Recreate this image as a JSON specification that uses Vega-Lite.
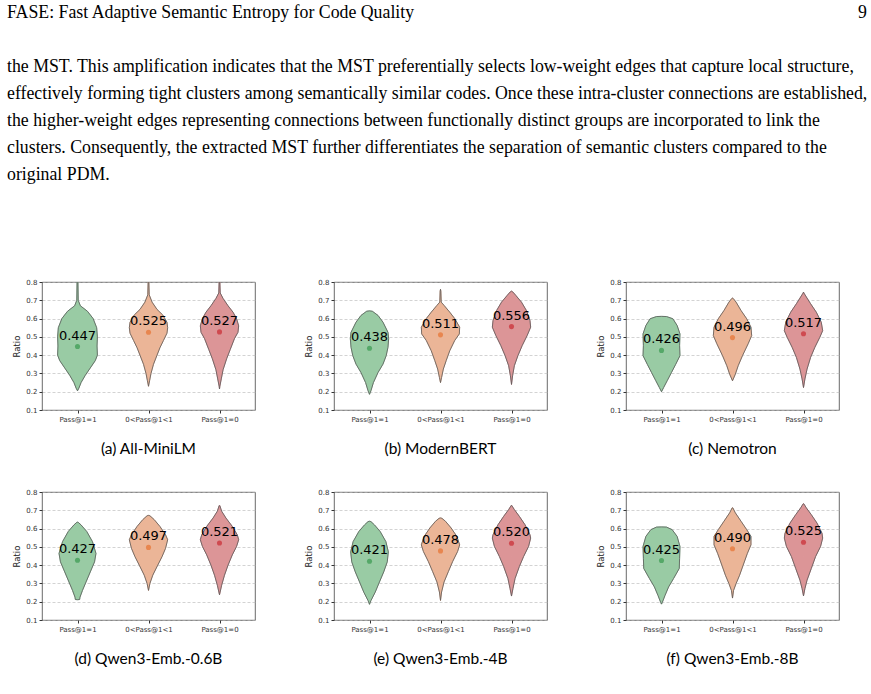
{
  "$schema": "https://vega.github.io/schema/vega-lite/v6.json",
  "padding": {"left": 7, "top": 4, "right": 0, "bottom": 0},
  "background": "white",
  "config": {
    "view": {"stroke": "#444", "strokeWidth": 0.8},
    "font": "DejaVu Sans",
    "axisY": {"values": [0.1, 0.2, 0.3, 0.4, 0.5, 0.6, 0.7, 0.8], "format": ".1f", "labelOverlap": false, "grid": true, "gridDash": [3, 2], "gridColor": "#b5b5b5", "gridWidth": 0.6, "domain": false, "tickSize": 3, "tickColor": "#333", "labelFontSize": 7, "labelColor": "#333", "labelPadding": 2, "titleFontSize": 8.5, "titleFontWeight": "normal", "titleColor": "#222", "titlePadding": 4}
  },
  "datasets": {
    "page": [
      {"line": 0, "col": 0, "t": "FASE: Fast Adaptive Semantic Entropy for Code Quality"},
      {"line": 0, "col": 1, "t": "9"},
      {"line": 2, "col": 0, "t": "the MST. This amplification indicates that the MST preferentially selects low-weight edges that capture local structure,"},
      {"line": 3, "col": 0, "t": "effectively forming tight clusters among semantically similar codes. Once these intra-cluster connections are established,"},
      {"line": 4, "col": 0, "t": "the higher-weight edges representing connections between functionally distinct groups are incorporated to link the"},
      {"line": 5, "col": 0, "t": "clusters. Consequently, the extracted MST further differentiates the separation of semantic clusters compared to the"},
      {"line": 6, "col": 0, "t": "original PDM."}
    ],
    "viol": [
      {"p":"(a) All-MiniLM","g":"Pass@1=1","y":0.8,"w":0.006},
      {"p":"(a) All-MiniLM","g":"Pass@1=1","y":0.7,"w":0.01},
      {"p":"(a) All-MiniLM","g":"Pass@1=1","y":0.67,"w":0.04},
      {"p":"(a) All-MiniLM","g":"Pass@1=1","y":0.64,"w":0.14},
      {"p":"(a) All-MiniLM","g":"Pass@1=1","y":0.6,"w":0.22},
      {"p":"(a) All-MiniLM","g":"Pass@1=1","y":0.55,"w":0.27},
      {"p":"(a) All-MiniLM","g":"Pass@1=1","y":0.5,"w":0.28},
      {"p":"(a) All-MiniLM","g":"Pass@1=1","y":0.45,"w":0.275},
      {"p":"(a) All-MiniLM","g":"Pass@1=1","y":0.4,"w":0.28},
      {"p":"(a) All-MiniLM","g":"Pass@1=1","y":0.37,"w":0.25},
      {"p":"(a) All-MiniLM","g":"Pass@1=1","y":0.33,"w":0.18},
      {"p":"(a) All-MiniLM","g":"Pass@1=1","y":0.29,"w":0.11},
      {"p":"(a) All-MiniLM","g":"Pass@1=1","y":0.25,"w":0.05},
      {"p":"(a) All-MiniLM","g":"Pass@1=1","y":0.22,"w":0.02},
      {"p":"(a) All-MiniLM","g":"Pass@1=1","y":0.205,"w":0},
      {"p":"(a) All-MiniLM","g":"0<Pass@1<1","y":0.8,"w":0.005},
      {"p":"(a) All-MiniLM","g":"0<Pass@1<1","y":0.73,"w":0.01},
      {"p":"(a) All-MiniLM","g":"0<Pass@1<1","y":0.69,"w":0.05},
      {"p":"(a) All-MiniLM","g":"0<Pass@1<1","y":0.65,"w":0.12},
      {"p":"(a) All-MiniLM","g":"0<Pass@1<1","y":0.62,"w":0.2},
      {"p":"(a) All-MiniLM","g":"0<Pass@1<1","y":0.58,"w":0.26},
      {"p":"(a) All-MiniLM","g":"0<Pass@1<1","y":0.55,"w":0.27},
      {"p":"(a) All-MiniLM","g":"0<Pass@1<1","y":0.52,"w":0.26},
      {"p":"(a) All-MiniLM","g":"0<Pass@1<1","y":0.48,"w":0.21},
      {"p":"(a) All-MiniLM","g":"0<Pass@1<1","y":0.44,"w":0.16},
      {"p":"(a) All-MiniLM","g":"0<Pass@1<1","y":0.4,"w":0.12},
      {"p":"(a) All-MiniLM","g":"0<Pass@1<1","y":0.35,"w":0.07},
      {"p":"(a) All-MiniLM","g":"0<Pass@1<1","y":0.3,"w":0.035},
      {"p":"(a) All-MiniLM","g":"0<Pass@1<1","y":0.26,"w":0.015},
      {"p":"(a) All-MiniLM","g":"0<Pass@1<1","y":0.23,"w":0},
      {"p":"(a) All-MiniLM","g":"Pass@1=0","y":0.8,"w":0.005},
      {"p":"(a) All-MiniLM","g":"Pass@1=0","y":0.74,"w":0.01},
      {"p":"(a) All-MiniLM","g":"Pass@1=0","y":0.71,"w":0.05},
      {"p":"(a) All-MiniLM","g":"Pass@1=0","y":0.67,"w":0.12},
      {"p":"(a) All-MiniLM","g":"Pass@1=0","y":0.635,"w":0.19},
      {"p":"(a) All-MiniLM","g":"Pass@1=0","y":0.6,"w":0.24},
      {"p":"(a) All-MiniLM","g":"Pass@1=0","y":0.56,"w":0.27},
      {"p":"(a) All-MiniLM","g":"Pass@1=0","y":0.525,"w":0.26},
      {"p":"(a) All-MiniLM","g":"Pass@1=0","y":0.49,"w":0.21},
      {"p":"(a) All-MiniLM","g":"Pass@1=0","y":0.43,"w":0.15},
      {"p":"(a) All-MiniLM","g":"Pass@1=0","y":0.38,"w":0.1},
      {"p":"(a) All-MiniLM","g":"Pass@1=0","y":0.32,"w":0.05},
      {"p":"(a) All-MiniLM","g":"Pass@1=0","y":0.27,"w":0.025},
      {"p":"(a) All-MiniLM","g":"Pass@1=0","y":0.23,"w":0.005},
      {"p":"(a) All-MiniLM","g":"Pass@1=0","y":0.215,"w":0},

      {"p":"(b) ModernBERT","g":"Pass@1=1","y":0.642,"w":0},
      {"p":"(b) ModernBERT","g":"Pass@1=1","y":0.64,"w":0.04},
      {"p":"(b) ModernBERT","g":"Pass@1=1","y":0.617,"w":0.12},
      {"p":"(b) ModernBERT","g":"Pass@1=1","y":0.58,"w":0.19},
      {"p":"(b) ModernBERT","g":"Pass@1=1","y":0.525,"w":0.26},
      {"p":"(b) ModernBERT","g":"Pass@1=1","y":0.49,"w":0.27},
      {"p":"(b) ModernBERT","g":"Pass@1=1","y":0.443,"w":0.26},
      {"p":"(b) ModernBERT","g":"Pass@1=1","y":0.397,"w":0.235},
      {"p":"(b) ModernBERT","g":"Pass@1=1","y":0.351,"w":0.19},
      {"p":"(b) ModernBERT","g":"Pass@1=1","y":0.305,"w":0.12},
      {"p":"(b) ModernBERT","g":"Pass@1=1","y":0.25,"w":0.055},
      {"p":"(b) ModernBERT","g":"Pass@1=1","y":0.205,"w":0.02},
      {"p":"(b) ModernBERT","g":"Pass@1=1","y":0.186,"w":0},
      {"p":"(b) ModernBERT","g":"0<Pass@1<1","y":0.76,"w":0},
      {"p":"(b) ModernBERT","g":"0<Pass@1<1","y":0.75,"w":0.005},
      {"p":"(b) ModernBERT","g":"0<Pass@1<1","y":0.69,"w":0.01},
      {"p":"(b) ModernBERT","g":"0<Pass@1<1","y":0.672,"w":0.05},
      {"p":"(b) ModernBERT","g":"0<Pass@1<1","y":0.635,"w":0.13},
      {"p":"(b) ModernBERT","g":"0<Pass@1<1","y":0.6,"w":0.2},
      {"p":"(b) ModernBERT","g":"0<Pass@1<1","y":0.553,"w":0.27},
      {"p":"(b) ModernBERT","g":"0<Pass@1<1","y":0.516,"w":0.265},
      {"p":"(b) ModernBERT","g":"0<Pass@1<1","y":0.48,"w":0.2},
      {"p":"(b) ModernBERT","g":"0<Pass@1<1","y":0.424,"w":0.13},
      {"p":"(b) ModernBERT","g":"0<Pass@1<1","y":0.37,"w":0.08},
      {"p":"(b) ModernBERT","g":"0<Pass@1<1","y":0.324,"w":0.04},
      {"p":"(b) ModernBERT","g":"0<Pass@1<1","y":0.278,"w":0.015},
      {"p":"(b) ModernBERT","g":"0<Pass@1<1","y":0.25,"w":0},
      {"p":"(b) ModernBERT","g":"Pass@1=0","y":0.75,"w":0},
      {"p":"(b) ModernBERT","g":"Pass@1=0","y":0.745,"w":0.02},
      {"p":"(b) ModernBERT","g":"Pass@1=0","y":0.727,"w":0.06},
      {"p":"(b) ModernBERT","g":"Pass@1=0","y":0.69,"w":0.14},
      {"p":"(b) ModernBERT","g":"Pass@1=0","y":0.644,"w":0.21},
      {"p":"(b) ModernBERT","g":"Pass@1=0","y":0.589,"w":0.26},
      {"p":"(b) ModernBERT","g":"Pass@1=0","y":0.553,"w":0.27},
      {"p":"(b) ModernBERT","g":"Pass@1=0","y":0.507,"w":0.22},
      {"p":"(b) ModernBERT","g":"Pass@1=0","y":0.452,"w":0.15},
      {"p":"(b) ModernBERT","g":"Pass@1=0","y":0.397,"w":0.09},
      {"p":"(b) ModernBERT","g":"Pass@1=0","y":0.342,"w":0.04},
      {"p":"(b) ModernBERT","g":"Pass@1=0","y":0.287,"w":0.015},
      {"p":"(b) ModernBERT","g":"Pass@1=0","y":0.24,"w":0},

      {"p":"(c) Nemotron","g":"Pass@1=1","y":0.612,"w":0},
      {"p":"(c) Nemotron","g":"Pass@1=1","y":0.611,"w":0.07},
      {"p":"(c) Nemotron","g":"Pass@1=1","y":0.599,"w":0.16},
      {"p":"(c) Nemotron","g":"Pass@1=1","y":0.562,"w":0.22},
      {"p":"(c) Nemotron","g":"Pass@1=1","y":0.516,"w":0.26},
      {"p":"(c) Nemotron","g":"Pass@1=1","y":0.452,"w":0.255},
      {"p":"(c) Nemotron","g":"Pass@1=1","y":0.397,"w":0.26},
      {"p":"(c) Nemotron","g":"Pass@1=1","y":0.35,"w":0.2},
      {"p":"(c) Nemotron","g":"Pass@1=1","y":0.305,"w":0.14},
      {"p":"(c) Nemotron","g":"Pass@1=1","y":0.26,"w":0.08},
      {"p":"(c) Nemotron","g":"Pass@1=1","y":0.223,"w":0.03},
      {"p":"(c) Nemotron","g":"Pass@1=1","y":0.2,"w":0},
      {"p":"(c) Nemotron","g":"0<Pass@1<1","y":0.712,"w":0},
      {"p":"(c) Nemotron","g":"0<Pass@1<1","y":0.71,"w":0.01},
      {"p":"(c) Nemotron","g":"0<Pass@1<1","y":0.69,"w":0.05},
      {"p":"(c) Nemotron","g":"0<Pass@1<1","y":0.644,"w":0.12},
      {"p":"(c) Nemotron","g":"0<Pass@1<1","y":0.599,"w":0.2},
      {"p":"(c) Nemotron","g":"0<Pass@1<1","y":0.553,"w":0.26},
      {"p":"(c) Nemotron","g":"0<Pass@1<1","y":0.507,"w":0.27},
      {"p":"(c) Nemotron","g":"0<Pass@1<1","y":0.462,"w":0.22},
      {"p":"(c) Nemotron","g":"0<Pass@1<1","y":0.397,"w":0.14},
      {"p":"(c) Nemotron","g":"0<Pass@1<1","y":0.342,"w":0.08},
      {"p":"(c) Nemotron","g":"0<Pass@1<1","y":0.296,"w":0.04},
      {"p":"(c) Nemotron","g":"0<Pass@1<1","y":0.26,"w":0},
      {"p":"(c) Nemotron","g":"Pass@1=0","y":0.745,"w":0},
      {"p":"(c) Nemotron","g":"Pass@1=0","y":0.74,"w":0.005},
      {"p":"(c) Nemotron","g":"Pass@1=0","y":0.718,"w":0.04},
      {"p":"(c) Nemotron","g":"Pass@1=0","y":0.681,"w":0.1},
      {"p":"(c) Nemotron","g":"Pass@1=0","y":0.635,"w":0.18},
      {"p":"(c) Nemotron","g":"Pass@1=0","y":0.58,"w":0.25},
      {"p":"(c) Nemotron","g":"Pass@1=0","y":0.534,"w":0.27},
      {"p":"(c) Nemotron","g":"Pass@1=0","y":0.498,"w":0.23},
      {"p":"(c) Nemotron","g":"Pass@1=0","y":0.443,"w":0.16},
      {"p":"(c) Nemotron","g":"Pass@1=0","y":0.388,"w":0.1},
      {"p":"(c) Nemotron","g":"Pass@1=0","y":0.324,"w":0.05},
      {"p":"(c) Nemotron","g":"Pass@1=0","y":0.27,"w":0.02},
      {"p":"(c) Nemotron","g":"Pass@1=0","y":0.223,"w":0},

      {"p":"(d) Qwen3-Emb.-0.6B","g":"Pass@1=1","y":0.635,"w":0},
      {"p":"(d) Qwen3-Emb.-0.6B","g":"Pass@1=1","y":0.634,"w":0.01},
      {"p":"(d) Qwen3-Emb.-0.6B","g":"Pass@1=1","y":0.62,"w":0.05},
      {"p":"(d) Qwen3-Emb.-0.6B","g":"Pass@1=1","y":0.584,"w":0.13},
      {"p":"(d) Qwen3-Emb.-0.6B","g":"Pass@1=1","y":0.529,"w":0.21},
      {"p":"(d) Qwen3-Emb.-0.6B","g":"Pass@1=1","y":0.464,"w":0.26},
      {"p":"(d) Qwen3-Emb.-0.6B","g":"Pass@1=1","y":0.418,"w":0.24},
      {"p":"(d) Qwen3-Emb.-0.6B","g":"Pass@1=1","y":0.363,"w":0.18},
      {"p":"(d) Qwen3-Emb.-0.6B","g":"Pass@1=1","y":0.308,"w":0.12},
      {"p":"(d) Qwen3-Emb.-0.6B","g":"Pass@1=1","y":0.262,"w":0.07},
      {"p":"(d) Qwen3-Emb.-0.6B","g":"Pass@1=1","y":0.225,"w":0.035},
      {"p":"(d) Qwen3-Emb.-0.6B","g":"Pass@1=1","y":0.212,"w":0.03},
      {"p":"(d) Qwen3-Emb.-0.6B","g":"Pass@1=1","y":0.211,"w":0},
      {"p":"(d) Qwen3-Emb.-0.6B","g":"0<Pass@1<1","y":0.672,"w":0},
      {"p":"(d) Qwen3-Emb.-0.6B","g":"0<Pass@1<1","y":0.67,"w":0.02},
      {"p":"(d) Qwen3-Emb.-0.6B","g":"0<Pass@1<1","y":0.649,"w":0.08},
      {"p":"(d) Qwen3-Emb.-0.6B","g":"0<Pass@1<1","y":0.612,"w":0.16},
      {"p":"(d) Qwen3-Emb.-0.6B","g":"0<Pass@1<1","y":0.566,"w":0.24},
      {"p":"(d) Qwen3-Emb.-0.6B","g":"0<Pass@1<1","y":0.539,"w":0.27},
      {"p":"(d) Qwen3-Emb.-0.6B","g":"0<Pass@1<1","y":0.492,"w":0.24},
      {"p":"(d) Qwen3-Emb.-0.6B","g":"0<Pass@1<1","y":0.446,"w":0.19},
      {"p":"(d) Qwen3-Emb.-0.6B","g":"0<Pass@1<1","y":0.4,"w":0.13},
      {"p":"(d) Qwen3-Emb.-0.6B","g":"0<Pass@1<1","y":0.345,"w":0.06},
      {"p":"(d) Qwen3-Emb.-0.6B","g":"0<Pass@1<1","y":0.3,"w":0.02},
      {"p":"(d) Qwen3-Emb.-0.6B","g":"0<Pass@1<1","y":0.262,"w":0},
      {"p":"(d) Qwen3-Emb.-0.6B","g":"Pass@1=0","y":0.727,"w":0},
      {"p":"(d) Qwen3-Emb.-0.6B","g":"Pass@1=0","y":0.725,"w":0.005},
      {"p":"(d) Qwen3-Emb.-0.6B","g":"Pass@1=0","y":0.695,"w":0.03},
      {"p":"(d) Qwen3-Emb.-0.6B","g":"Pass@1=0","y":0.658,"w":0.09},
      {"p":"(d) Qwen3-Emb.-0.6B","g":"Pass@1=0","y":0.612,"w":0.18},
      {"p":"(d) Qwen3-Emb.-0.6B","g":"Pass@1=0","y":0.566,"w":0.25},
      {"p":"(d) Qwen3-Emb.-0.6B","g":"Pass@1=0","y":0.539,"w":0.27},
      {"p":"(d) Qwen3-Emb.-0.6B","g":"Pass@1=0","y":0.502,"w":0.24},
      {"p":"(d) Qwen3-Emb.-0.6B","g":"Pass@1=0","y":0.456,"w":0.18},
      {"p":"(d) Qwen3-Emb.-0.6B","g":"Pass@1=0","y":0.4,"w":0.12},
      {"p":"(d) Qwen3-Emb.-0.6B","g":"Pass@1=0","y":0.345,"w":0.07},
      {"p":"(d) Qwen3-Emb.-0.6B","g":"Pass@1=0","y":0.29,"w":0.03},
      {"p":"(d) Qwen3-Emb.-0.6B","g":"Pass@1=0","y":0.238,"w":0},

      {"p":"(e) Qwen3-Emb.-4B","g":"Pass@1=1","y":0.64,"w":0},
      {"p":"(e) Qwen3-Emb.-4B","g":"Pass@1=1","y":0.638,"w":0.02},
      {"p":"(e) Qwen3-Emb.-4B","g":"Pass@1=1","y":0.62,"w":0.07},
      {"p":"(e) Qwen3-Emb.-4B","g":"Pass@1=1","y":0.584,"w":0.15},
      {"p":"(e) Qwen3-Emb.-4B","g":"Pass@1=1","y":0.529,"w":0.23},
      {"p":"(e) Qwen3-Emb.-4B","g":"Pass@1=1","y":0.473,"w":0.265},
      {"p":"(e) Qwen3-Emb.-4B","g":"Pass@1=1","y":0.418,"w":0.25},
      {"p":"(e) Qwen3-Emb.-4B","g":"Pass@1=1","y":0.363,"w":0.2},
      {"p":"(e) Qwen3-Emb.-4B","g":"Pass@1=1","y":0.308,"w":0.14},
      {"p":"(e) Qwen3-Emb.-4B","g":"Pass@1=1","y":0.252,"w":0.08},
      {"p":"(e) Qwen3-Emb.-4B","g":"Pass@1=1","y":0.206,"w":0.02},
      {"p":"(e) Qwen3-Emb.-4B","g":"Pass@1=1","y":0.186,"w":0},
      {"p":"(e) Qwen3-Emb.-4B","g":"0<Pass@1<1","y":0.658,"w":0},
      {"p":"(e) Qwen3-Emb.-4B","g":"0<Pass@1<1","y":0.656,"w":0.02},
      {"p":"(e) Qwen3-Emb.-4B","g":"0<Pass@1<1","y":0.64,"w":0.07},
      {"p":"(e) Qwen3-Emb.-4B","g":"0<Pass@1<1","y":0.603,"w":0.15},
      {"p":"(e) Qwen3-Emb.-4B","g":"0<Pass@1<1","y":0.557,"w":0.23},
      {"p":"(e) Qwen3-Emb.-4B","g":"0<Pass@1<1","y":0.511,"w":0.27},
      {"p":"(e) Qwen3-Emb.-4B","g":"0<Pass@1<1","y":0.474,"w":0.24},
      {"p":"(e) Qwen3-Emb.-4B","g":"0<Pass@1<1","y":0.419,"w":0.17},
      {"p":"(e) Qwen3-Emb.-4B","g":"0<Pass@1<1","y":0.364,"w":0.11},
      {"p":"(e) Qwen3-Emb.-4B","g":"0<Pass@1<1","y":0.308,"w":0.05},
      {"p":"(e) Qwen3-Emb.-4B","g":"0<Pass@1<1","y":0.253,"w":0.015},
      {"p":"(e) Qwen3-Emb.-4B","g":"0<Pass@1<1","y":0.207,"w":0},
      {"p":"(e) Qwen3-Emb.-4B","g":"Pass@1=0","y":0.728,"w":0},
      {"p":"(e) Qwen3-Emb.-4B","g":"Pass@1=0","y":0.725,"w":0.005},
      {"p":"(e) Qwen3-Emb.-4B","g":"Pass@1=0","y":0.704,"w":0.04},
      {"p":"(e) Qwen3-Emb.-4B","g":"Pass@1=0","y":0.667,"w":0.11},
      {"p":"(e) Qwen3-Emb.-4B","g":"Pass@1=0","y":0.621,"w":0.19},
      {"p":"(e) Qwen3-Emb.-4B","g":"Pass@1=0","y":0.566,"w":0.26},
      {"p":"(e) Qwen3-Emb.-4B","g":"Pass@1=0","y":0.548,"w":0.27},
      {"p":"(e) Qwen3-Emb.-4B","g":"Pass@1=0","y":0.502,"w":0.24},
      {"p":"(e) Qwen3-Emb.-4B","g":"Pass@1=0","y":0.447,"w":0.17},
      {"p":"(e) Qwen3-Emb.-4B","g":"Pass@1=0","y":0.392,"w":0.11},
      {"p":"(e) Qwen3-Emb.-4B","g":"Pass@1=0","y":0.327,"w":0.05},
      {"p":"(e) Qwen3-Emb.-4B","g":"Pass@1=0","y":0.271,"w":0.02},
      {"p":"(e) Qwen3-Emb.-4B","g":"Pass@1=0","y":0.231,"w":0},

      {"p":"(f) Qwen3-Emb.-8B","g":"Pass@1=1","y":0.609,"w":0},
      {"p":"(f) Qwen3-Emb.-8B","g":"Pass@1=1","y":0.608,"w":0.07},
      {"p":"(f) Qwen3-Emb.-8B","g":"Pass@1=1","y":0.594,"w":0.15},
      {"p":"(f) Qwen3-Emb.-8B","g":"Pass@1=1","y":0.557,"w":0.22},
      {"p":"(f) Qwen3-Emb.-8B","g":"Pass@1=1","y":0.502,"w":0.26},
      {"p":"(f) Qwen3-Emb.-8B","g":"Pass@1=1","y":0.437,"w":0.255},
      {"p":"(f) Qwen3-Emb.-8B","g":"Pass@1=1","y":0.382,"w":0.25},
      {"p":"(f) Qwen3-Emb.-8B","g":"Pass@1=1","y":0.327,"w":0.17},
      {"p":"(f) Qwen3-Emb.-8B","g":"Pass@1=1","y":0.281,"w":0.1},
      {"p":"(f) Qwen3-Emb.-8B","g":"Pass@1=1","y":0.235,"w":0.05},
      {"p":"(f) Qwen3-Emb.-8B","g":"Pass@1=1","y":0.195,"w":0.01},
      {"p":"(f) Qwen3-Emb.-8B","g":"Pass@1=1","y":0.187,"w":0},
      {"p":"(f) Qwen3-Emb.-8B","g":"0<Pass@1<1","y":0.714,"w":0},
      {"p":"(f) Qwen3-Emb.-8B","g":"0<Pass@1<1","y":0.713,"w":0.005},
      {"p":"(f) Qwen3-Emb.-8B","g":"0<Pass@1<1","y":0.686,"w":0.04},
      {"p":"(f) Qwen3-Emb.-8B","g":"0<Pass@1<1","y":0.64,"w":0.12},
      {"p":"(f) Qwen3-Emb.-8B","g":"0<Pass@1<1","y":0.594,"w":0.2},
      {"p":"(f) Qwen3-Emb.-8B","g":"0<Pass@1<1","y":0.557,"w":0.26},
      {"p":"(f) Qwen3-Emb.-8B","g":"0<Pass@1<1","y":0.511,"w":0.26},
      {"p":"(f) Qwen3-Emb.-8B","g":"0<Pass@1<1","y":0.465,"w":0.21},
      {"p":"(f) Qwen3-Emb.-8B","g":"0<Pass@1<1","y":0.4,"w":0.15},
      {"p":"(f) Qwen3-Emb.-8B","g":"0<Pass@1<1","y":0.345,"w":0.1},
      {"p":"(f) Qwen3-Emb.-8B","g":"0<Pass@1<1","y":0.299,"w":0.05},
      {"p":"(f) Qwen3-Emb.-8B","g":"0<Pass@1<1","y":0.262,"w":0.015},
      {"p":"(f) Qwen3-Emb.-8B","g":"0<Pass@1<1","y":0.22,"w":0},
      {"p":"(f) Qwen3-Emb.-8B","g":"Pass@1=0","y":0.736,"w":0},
      {"p":"(f) Qwen3-Emb.-8B","g":"Pass@1=0","y":0.735,"w":0.005},
      {"p":"(f) Qwen3-Emb.-8B","g":"Pass@1=0","y":0.713,"w":0.04},
      {"p":"(f) Qwen3-Emb.-8B","g":"Pass@1=0","y":0.676,"w":0.11},
      {"p":"(f) Qwen3-Emb.-8B","g":"Pass@1=0","y":0.63,"w":0.19},
      {"p":"(f) Qwen3-Emb.-8B","g":"Pass@1=0","y":0.575,"w":0.26},
      {"p":"(f) Qwen3-Emb.-8B","g":"Pass@1=0","y":0.548,"w":0.27},
      {"p":"(f) Qwen3-Emb.-8B","g":"Pass@1=0","y":0.502,"w":0.24},
      {"p":"(f) Qwen3-Emb.-8B","g":"Pass@1=0","y":0.447,"w":0.17},
      {"p":"(f) Qwen3-Emb.-8B","g":"Pass@1=0","y":0.382,"w":0.11},
      {"p":"(f) Qwen3-Emb.-8B","g":"Pass@1=0","y":0.318,"w":0.05},
      {"p":"(f) Qwen3-Emb.-8B","g":"Pass@1=0","y":0.272,"w":0.02},
      {"p":"(f) Qwen3-Emb.-8B","g":"Pass@1=0","y":0.232,"w":0},

      {"p":"(a) All-MiniLM","g":"Pass@1=1","m":0.447},
      {"p":"(a) All-MiniLM","g":"0<Pass@1<1","m":0.525},
      {"p":"(a) All-MiniLM","g":"Pass@1=0","m":0.527},
      {"p":"(b) ModernBERT","g":"Pass@1=1","m":0.438},
      {"p":"(b) ModernBERT","g":"0<Pass@1<1","m":0.511},
      {"p":"(b) ModernBERT","g":"Pass@1=0","m":0.556},
      {"p":"(c) Nemotron","g":"Pass@1=1","m":0.426},
      {"p":"(c) Nemotron","g":"0<Pass@1<1","m":0.496},
      {"p":"(c) Nemotron","g":"Pass@1=0","m":0.517},
      {"p":"(d) Qwen3-Emb.-0.6B","g":"Pass@1=1","m":0.427},
      {"p":"(d) Qwen3-Emb.-0.6B","g":"0<Pass@1<1","m":0.497},
      {"p":"(d) Qwen3-Emb.-0.6B","g":"Pass@1=0","m":0.521},
      {"p":"(e) Qwen3-Emb.-4B","g":"Pass@1=1","m":0.421},
      {"p":"(e) Qwen3-Emb.-4B","g":"0<Pass@1<1","m":0.478},
      {"p":"(e) Qwen3-Emb.-4B","g":"Pass@1=0","m":0.520},
      {"p":"(f) Qwen3-Emb.-8B","g":"Pass@1=1","m":0.425},
      {"p":"(f) Qwen3-Emb.-8B","g":"0<Pass@1<1","m":0.490},
      {"p":"(f) Qwen3-Emb.-8B","g":"Pass@1=0","m":0.525}
    ]
  },
  "vconcat": [
    {
      "data": {"name": "page"},
      "width": 821,
      "height": 162,
      "view": {"stroke": null},
      "layer": [
        {
          "transform": [{"filter": "datum.col === 0"}],
          "mark": {"type": "text", "align": "left", "baseline": "middle", "font": "Liberation Serif", "fontSize": 17.8, "color": "#000", "dx": -35},
          "encoding": {
            "x": {"field": "col", "type": "quantitative", "scale": {"domain": [0, 1], "nice": false}, "axis": null},
            "y": {"field": "line", "type": "quantitative", "scale": {"domain": [0, 6], "reverse": true, "nice": false}, "axis": null},
            "text": {"field": "t"}
          }
        },
        {
          "transform": [{"filter": "datum.col === 1"}],
          "mark": {"type": "text", "align": "right", "baseline": "middle", "font": "Liberation Serif", "fontSize": 17.8, "color": "#000", "dx": 4},
          "encoding": {
            "x": {"field": "col", "type": "quantitative", "scale": {"domain": [0, 1], "nice": false}, "axis": null},
            "y": {"field": "line", "type": "quantitative", "scale": {"domain": [0, 6], "reverse": true, "nice": false}, "axis": null},
            "text": {"field": "t"}
          }
        }
      ]
    },
    {
      "data": {"name": "viol"},
      "columns": 3,
      "spacing": {"row": 29, "column": 48},
      "facet": {
        "field": "p", "type": "nominal",
        "sort": ["(a) All-MiniLM", "(b) ModernBERT", "(c) Nemotron", "(d) Qwen3-Emb.-0.6B", "(e) Qwen3-Emb.-4B", "(f) Qwen3-Emb.-8B"],
        "header": {"title": null, "labelOrient": "bottom", "labelFont": "Lato", "labelFontSize": 15.5, "labelColor": "#000", "labelPadding": 20}
      },
      "resolve": {"axis": {"x": "independent", "y": "independent"}},
      "spec": {
        "width": 213,
        "height": 128,
        "resolve": {"scale": {"x": "independent"}},
        "layer": [
          {"transform": [{"filter": "datum.g === 'Pass@1=1' && isValid(datum.w)"}],
           "mark": {"type": "area", "orient": "horizontal", "fill": "#99cba4", "stroke": "#99cba4", "strokeWidth": 1, "clip": true},
           "encoding": {"y": {"field": "y", "type": "quantitative"}, "x": {"field": "w", "type": "quantitative", "scale": {"domain": [-0.5, 2.5], "nice": false, "zero": false}, "axis": null}, "x2": {"datum": 0}}},
          {"transform": [{"filter": "datum.g === 'Pass@1=1' && isValid(datum.w)"}],
           "mark": {"type": "area", "orient": "horizontal", "fill": "#99cba4", "stroke": "#99cba4", "strokeWidth": 1, "clip": true},
           "encoding": {"y": {"field": "y", "type": "quantitative"}, "x": {"field": "w", "type": "quantitative", "scale": {"domain": [-2.5, 0.5], "reverse": true, "nice": false, "zero": false}, "axis": null}, "x2": {"datum": 0}}},
          {"transform": [{"filter": "datum.g === '0<Pass@1<1' && isValid(datum.w)"}],
           "mark": {"type": "area", "orient": "horizontal", "fill": "#ebb597", "stroke": "#ebb597", "strokeWidth": 1, "clip": true},
           "encoding": {"y": {"field": "y", "type": "quantitative"}, "x": {"field": "w", "type": "quantitative", "scale": {"domain": [-1.5, 1.5], "nice": false, "zero": false}, "axis": null}, "x2": {"datum": 0}}},
          {"transform": [{"filter": "datum.g === '0<Pass@1<1' && isValid(datum.w)"}],
           "mark": {"type": "area", "orient": "horizontal", "fill": "#ebb597", "stroke": "#ebb597", "strokeWidth": 1, "clip": true},
           "encoding": {"y": {"field": "y", "type": "quantitative"}, "x": {"field": "w", "type": "quantitative", "scale": {"domain": [-1.5, 1.5], "reverse": true, "nice": false, "zero": false}, "axis": null}, "x2": {"datum": 0}}},
          {"transform": [{"filter": "datum.g === 'Pass@1=0' && isValid(datum.w)"}],
           "mark": {"type": "area", "orient": "horizontal", "fill": "#dc9597", "stroke": "#dc9597", "strokeWidth": 1, "clip": true},
           "encoding": {"y": {"field": "y", "type": "quantitative"}, "x": {"field": "w", "type": "quantitative", "scale": {"domain": [-2.5, 0.5], "nice": false, "zero": false}, "axis": null}, "x2": {"datum": 0}}},
          {"transform": [{"filter": "datum.g === 'Pass@1=0' && isValid(datum.w)"}],
           "mark": {"type": "area", "orient": "horizontal", "fill": "#dc9597", "stroke": "#dc9597", "strokeWidth": 1, "clip": true},
           "encoding": {"y": {"field": "y", "type": "quantitative"}, "x": {"field": "w", "type": "quantitative", "scale": {"domain": [-0.5, 2.5], "reverse": true, "nice": false, "zero": false}, "axis": null}, "x2": {"datum": 0}}},

          {"transform": [{"filter": "datum.g === 'Pass@1=1' && isValid(datum.w)"}],
           "mark": {"type": "line", "stroke": "#5a5a5a", "strokeWidth": 0.8, "clip": true},
           "encoding": {"y": {"field": "y", "type": "quantitative"}, "order": {"field": "y", "type": "quantitative"}, "x": {"field": "w", "type": "quantitative", "scale": {"domain": [-0.5, 2.5], "nice": false, "zero": false}, "axis": null}}},
          {"transform": [{"filter": "datum.g === 'Pass@1=1' && isValid(datum.w)"}],
           "mark": {"type": "line", "stroke": "#5a5a5a", "strokeWidth": 0.8, "clip": true},
           "encoding": {"y": {"field": "y", "type": "quantitative"}, "order": {"field": "y", "type": "quantitative"}, "x": {"field": "w", "type": "quantitative", "scale": {"domain": [-2.5, 0.5], "reverse": true, "nice": false, "zero": false}, "axis": null}}},
          {"transform": [{"filter": "datum.g === '0<Pass@1<1' && isValid(datum.w)"}],
           "mark": {"type": "line", "stroke": "#5a5a5a", "strokeWidth": 0.8, "clip": true},
           "encoding": {"y": {"field": "y", "type": "quantitative"}, "order": {"field": "y", "type": "quantitative"}, "x": {"field": "w", "type": "quantitative", "scale": {"domain": [-1.5, 1.5], "nice": false, "zero": false}, "axis": null}}},
          {"transform": [{"filter": "datum.g === '0<Pass@1<1' && isValid(datum.w)"}],
           "mark": {"type": "line", "stroke": "#5a5a5a", "strokeWidth": 0.8, "clip": true},
           "encoding": {"y": {"field": "y", "type": "quantitative"}, "order": {"field": "y", "type": "quantitative"}, "x": {"field": "w", "type": "quantitative", "scale": {"domain": [-1.5, 1.5], "reverse": true, "nice": false, "zero": false}, "axis": null}}},
          {"transform": [{"filter": "datum.g === 'Pass@1=0' && isValid(datum.w)"}],
           "mark": {"type": "line", "stroke": "#5a5a5a", "strokeWidth": 0.8, "clip": true},
           "encoding": {"y": {"field": "y", "type": "quantitative"}, "order": {"field": "y", "type": "quantitative"}, "x": {"field": "w", "type": "quantitative", "scale": {"domain": [-2.5, 0.5], "nice": false, "zero": false}, "axis": null}}},
          {"transform": [{"filter": "datum.g === 'Pass@1=0' && isValid(datum.w)"}],
           "mark": {"type": "line", "stroke": "#5a5a5a", "strokeWidth": 0.8, "clip": true},
           "encoding": {"y": {"field": "y", "type": "quantitative"}, "order": {"field": "y", "type": "quantitative"}, "x": {"field": "w", "type": "quantitative", "scale": {"domain": [-0.5, 2.5], "reverse": true, "nice": false, "zero": false}, "axis": null}}},

          {"transform": [{"filter": "isValid(datum.m)"}],
           "mark": {"type": "circle", "size": 26, "opacity": 1},
           "encoding": {
             "x": {"field": "g", "type": "nominal", "scale": {"type": "point", "padding": 0.5, "domain": ["Pass@1=1", "0<Pass@1<1", "Pass@1=0"]},
                   "axis": {"title": null, "labelAngle": 0, "labelFontSize": 7, "labelColor": "#333", "tickSize": 3, "tickColor": "#333", "domain": false, "labelPadding": 2, "grid": false}},
             "y": {"field": "m", "type": "quantitative", "scale": {"domain": [0.1, 0.8], "nice": false, "zero": false},
                   "axis": {"title": "Ratio", "values": [0.1, 0.2, 0.3, 0.4, 0.5, 0.6, 0.7, 0.8], "tickCount": 8, "labelOverlap": false}},
             "color": {"field": "g", "type": "nominal", "scale": {"domain": ["Pass@1=1", "0<Pass@1<1", "Pass@1=0"], "range": ["#55a868", "#e8864f", "#cf4a50"]}, "legend": null}
           }},
          {"transform": [{"filter": "isValid(datum.m)"}],
           "mark": {"type": "text", "fontSize": 13, "font": "DejaVu Sans", "color": "#000", "baseline": "middle", "dy": -11},
           "encoding": {
             "x": {"field": "g", "type": "nominal", "scale": {"type": "point", "padding": 0.5, "domain": ["Pass@1=1", "0<Pass@1<1", "Pass@1=0"]}, "axis": null},
             "y": {"field": "m", "type": "quantitative", "axis": {"title": "Ratio", "values": [0.1, 0.2, 0.3, 0.4, 0.5, 0.6, 0.7, 0.8], "tickCount": 8, "labelOverlap": false}},
             "text": {"field": "m", "type": "quantitative", "format": ".3f"}
           }}
        ]
      }
    }
  ],
  "spacing": 93
}
